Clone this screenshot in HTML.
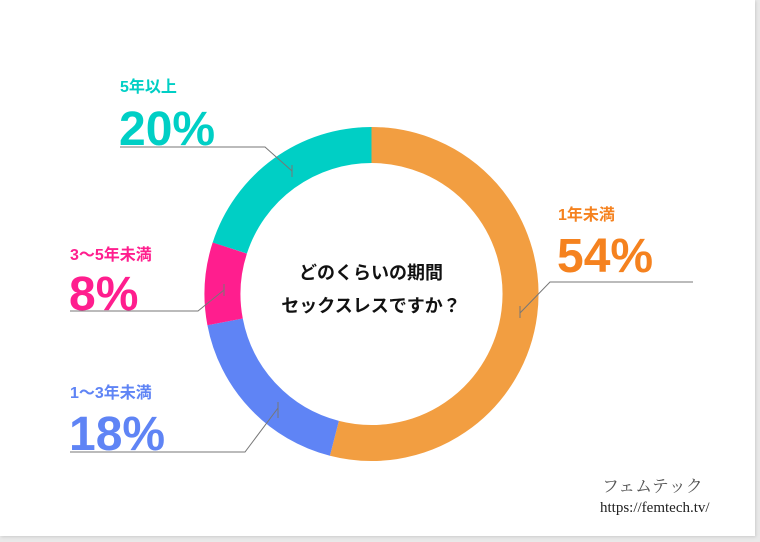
<!DOCTYPE html>
<html><head><meta charset="utf-8"><style>
html,body{margin:0;padding:0;background:#e9e9e9;}
.card{position:absolute;left:0;top:0;width:755px;height:536px;background:#fff;box-shadow:1px 1px 3px #ccc;}
svg{position:absolute;left:0;top:0;}
text{font-family:"Liberation Sans","Noto Sans CJK JP",sans-serif;font-weight:bold;}
</style></head><body>
<div class="card"></div>
<svg width="760" height="542" viewBox="0 0 760 542">
<g fill="none" stroke-width="36">
<path d="M371.5 145 A149 149 0 1 1 334.4 438.3" stroke="#F29E41"/>
<path d="M334.4 438.3 A149 149 0 0 1 225.1 321.9" stroke="#5F84F5"/>
<path d="M225.1 321.9 A149 149 0 0 1 229.8 248.0" stroke="#FF1E8E"/>
<path d="M229.8 248.0 A149 149 0 0 1 371.5 145" stroke="#00CFC5"/>
</g>
<g fill="none" stroke="#777" stroke-width="1">
<polyline points="120,147 265,147 292,171"/><line x1="292" y1="165" x2="292" y2="177"/>
<polyline points="70,311 198,311 224,290"/><line x1="224" y1="284" x2="224" y2="296"/>
<polyline points="70,452 245,452 278,408"/><line x1="278" y1="402" x2="278" y2="418"/>
<polyline points="693,282 550,282 520,313"/><line x1="520" y1="306" x2="520" y2="318"/>
</g>
<text x="371" y="279" font-size="18" text-anchor="middle" fill="#111">どのくらいの期間</text>
<text x="371" y="312" font-size="18" text-anchor="middle" fill="#111">セックスレスですか？</text>
<text x="120" y="92" font-size="16" fill="#00CFC5">5年以上</text>
<text x="119" y="145" font-size="48" fill="#00CFC5">20%</text>
<text x="558" y="220" font-size="16" fill="#F5821F">1年未満</text>
<text x="557" y="272" font-size="48" fill="#F5821F">54%</text>
<text x="70" y="260" font-size="16" fill="#FF1E8E">3〜5年未満</text>
<text x="69" y="310" font-size="48" fill="#FF1E8E">8%</text>
<text x="70" y="398" font-size="16" fill="#5F84F5">1〜3年未満</text>
<text x="69" y="450" font-size="48" fill="#5F84F5">18%</text>
<text x="602" y="492" font-size="17" fill="#555" style="font-weight:normal;font-family:'Noto Serif CJK SC',serif">フェムテック</text>
<text x="600" y="512" font-size="15" fill="#222" style="font-weight:normal;font-family:'Liberation Serif',serif">https://femtech.tv/</text>
</svg>
</body></html>
